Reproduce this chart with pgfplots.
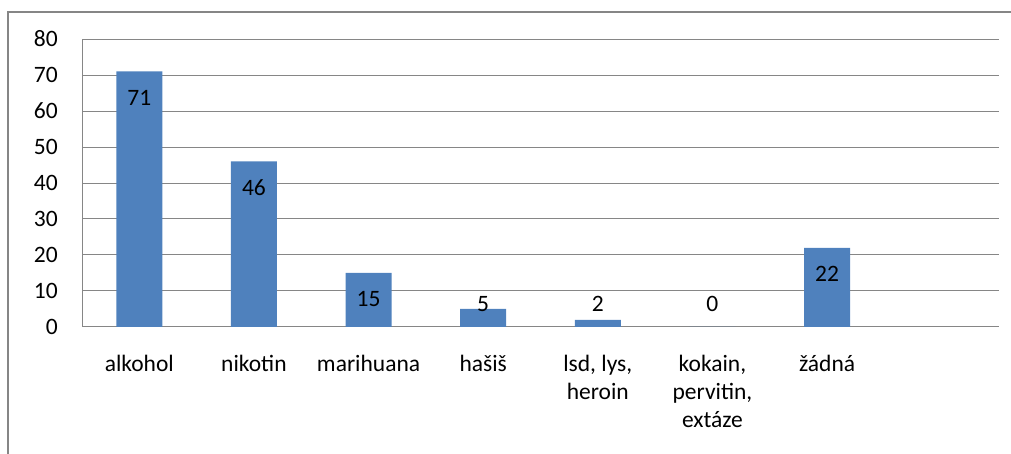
\documentclass[border=0pt]{standalone}
\usepackage{pgfplots}
\pgfplotsset{compat=1.18}
\usepackage{fontspec}
\setmainfont{Carlito}
\definecolor{barblue}{RGB}{79,129,189}
\definecolor{gridgray}{RGB}{134,134,134}
\begin{document}
\begin{tikzpicture}[x=1pt,y=1pt]
\useasboundingbox (0,0) rectangle (1011,454);
\draw[gridgray, line width=1.2pt] (8,-10) -- (8,442) -- (1020,442);
\begin{axis}[
  at={(82pt,127pt)}, anchor=south west,
  scale only axis, width=917pt, height=288pt,
  xmin=-0.5, xmax=7.5, ymin=0, ymax=80,
  ytick={0,10,...,80},
  xtick={0,...,6},
  xticklabels={alkohol, nikotin, marihuana, hašiš, {lsd, lys,\\heroin}, {kokain,\\pervitin,\\extáze}, žádná},
  axis lines=left,
  axis line style={draw=gridgray, line width=1pt, -},
  ymajorgrids, grid style={draw=gridgray, line width=1pt},
  major tick length=0pt,
  /pgf/number format/assume math mode=true,
  tick label style={font=\fontsize{23.5}{28}\selectfont},
  yticklabel style={anchor=east, inner sep=0pt, xshift=-24pt},
  xticklabel style={anchor=north, inner sep=0pt, yshift=-28pt, align=center},
  clip=false,
]
\addplot[ybar, bar width=46pt, fill=barblue, draw=none,
  nodes near coords,
  visualization depends on={rawy \as \ry},
  every node near coord/.append style={anchor=center, inner sep=0pt,
    font=\fontsize{23.5}{28}\selectfont, text=black,
    yshift={3.6*(max(\ry-7.36,6.4)-\ry)}},
] coordinates {(0,71) (1,46) (2,15) (3,5) (4,2) (5,0) (6,22)};
\end{axis}
\end{tikzpicture}
\end{document}
